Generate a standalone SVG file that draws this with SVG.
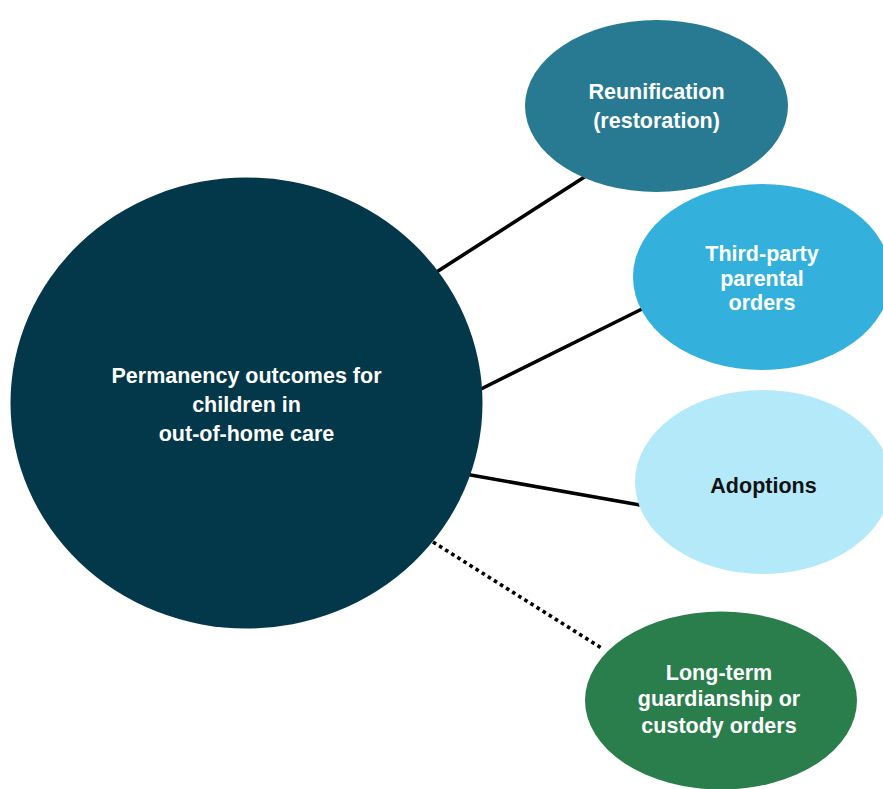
<svg xmlns="http://www.w3.org/2000/svg" width="883" height="789" viewBox="0 0 883 789">
<style>
text{font-family:"Liberation Sans",Arial,sans-serif;font-weight:bold;font-size:21.5px;text-anchor:middle;fill:#ffffff}
.dark{fill:#111111}
.conn{stroke:#000000;stroke-width:3.6;fill:none}
.dot{stroke-dasharray:3.6 3.6}
</style>
<rect width="883" height="789" fill="#ffffff"/>
<g id="connectors">
<line class="conn" x1="435" y1="273" x2="586" y2="176"/>
<line class="conn" x1="479" y1="390" x2="642" y2="309"/>
<line class="conn" x1="465" y1="474" x2="640" y2="505"/>
<line class="conn dot" x1="433" y1="542" x2="603" y2="649"/>
</g>
<g id="center">
<ellipse cx="246.5" cy="403" rx="236" ry="225.5" fill="#03374a"/>
<text x="246.5" y="383">Permanency outcomes for</text>
<text x="246.5" y="412">children in</text>
<text x="246.5" y="441">out-of-home care</text>
</g>
<g id="reunification">
<ellipse cx="656.5" cy="106" rx="131.5" ry="86" fill="#287a93"/>
<text x="656.5" y="98.5">Reunification</text>
<text x="656.5" y="127.5">(restoration)</text>
</g>
<g id="third-party">
<ellipse cx="762" cy="277" rx="129" ry="93" fill="#33b1dc"/>
<text x="762" y="261">Third-party</text>
<text x="762" y="285.5">parental</text>
<text x="762" y="310">orders</text>
</g>
<g id="adoptions">
<ellipse cx="763" cy="482" rx="128" ry="92" fill="#b3e9f9"/>
<text class="dark" x="763.5" y="493">Adoptions</text>
</g>
<g id="long-term">
<ellipse cx="721" cy="700.5" rx="136" ry="89" fill="#2a7e4c"/>
<text x="719" y="680">Long-term</text>
<text x="719" y="706">guardianship or</text>
<text x="719" y="733">custody orders</text>
</g>
</svg>
